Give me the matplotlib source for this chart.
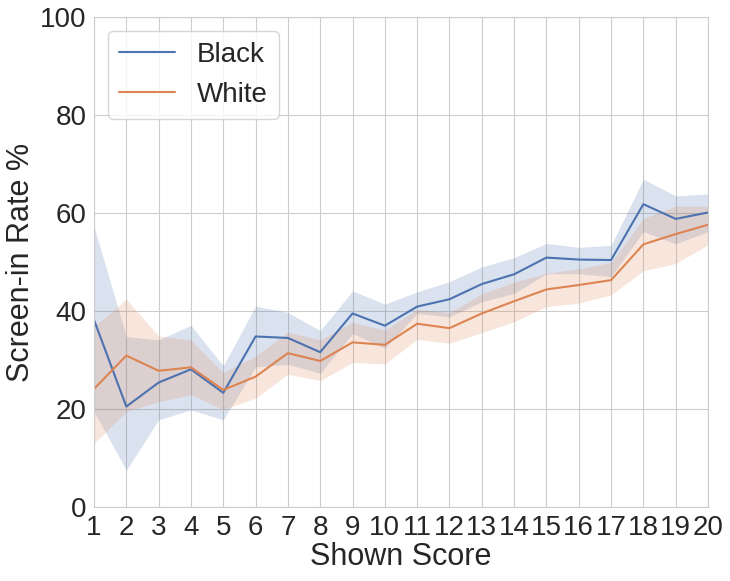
import matplotlib
matplotlib.use("Agg")
import matplotlib.pyplot as plt
import seaborn as sns
import numpy as np

# data
scores = list(range(1, 21))

black_mean = [38.2, 20.5, 25.4, 28.1, 23.3, 34.8, 34.5, 31.6, 39.5, 37.0,
              40.9, 42.4, 45.5, 47.5, 50.9, 50.5, 50.4, 61.8, 58.8, 60.1]
black_lo = [19.5, 7.5, 17.8, 19.8, 17.8, 28.6, 29.1, 27.3, 35.4, 32.4,
            39.5, 38.8, 41.9, 43.6, 47.6, 47.6, 47.0, 56.2, 53.7, 56.2]
black_hi = [57.2, 34.8, 34.1, 37.1, 28.8, 41.0, 39.7, 36.0, 44.1, 41.4,
            43.9, 46.0, 49.0, 50.9, 53.8, 53.0, 53.4, 66.9, 63.5, 63.9]

white_mean = [24.1, 30.9, 27.8, 28.5, 23.9, 26.6, 31.4, 29.8, 33.6, 33.1,
              37.4, 36.5, 39.5, 42.0, 44.4, 45.3, 46.3, 53.6, 55.7, 57.6]
white_lo = [13.0, 19.5, 21.5, 22.9, 19.9, 22.2, 27.1, 25.8, 29.5, 29.2,
            34.2, 33.4, 35.6, 37.8, 40.9, 41.6, 43.3, 48.2, 49.7, 53.5]
white_hi = [36.8, 42.4, 34.9, 34.1, 27.4, 30.8, 35.7, 34.1, 37.7, 36.1,
            40.3, 39.7, 43.5, 45.9, 47.7, 48.6, 49.9, 58.9, 61.4, 61.4]

sns.set_style("whitegrid")
plt.rcParams['font.family'] = ['Liberation Sans', 'DejaVu Sans']

fig = plt.figure(figsize=(7.3, 5.81), dpi=100)
ax = fig.add_axes([94 / 730, 1 - 507 / 581, 614 / 730, 490 / 581])

pal = sns.color_palette("deep")
ax.plot(scores, black_mean, color=pal[0], lw=1.5, label="Black")
ax.fill_between(scores, black_lo, black_hi, color=pal[0], alpha=0.2, lw=0)
ax.plot(scores, white_mean, color=pal[1], lw=1.5, label="White")
ax.fill_between(scores, white_lo, white_hi, color=pal[1], alpha=0.2, lw=0)

ax.set_xlim(1, 20)
ax.set_ylim(0, 100)
ax.set_xticks(scores)
ax.set_yticks([0, 20, 40, 60, 80, 100])
ax.tick_params(labelsize=20, pad=2)
ax.set_xlabel("Shown Score", fontsize=22, labelpad=1)
ax.set_ylabel("Screen-in Rate %", fontsize=22, labelpad=3)
ax.legend(loc="upper left", fontsize=20, handlelength=2.0)

fig.savefig("out.png", dpi=100)
